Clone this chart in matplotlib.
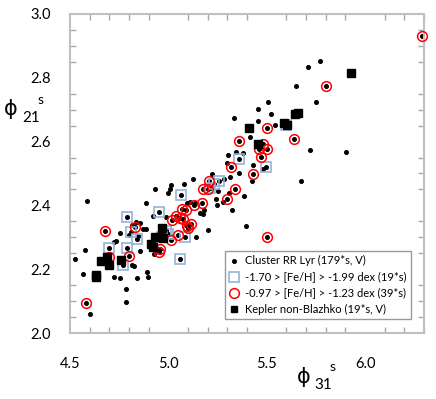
import matplotlib
matplotlib.use("Agg")
import matplotlib.pyplot as plt
import matplotlib.ticker as ticker

plt.rcParams['font.family'] = ['Lato', 'DejaVu Sans']

# cluster RR Lyr stars (phi31, phi21) - stand-alone dots
cl_x = [5.769, 5.708, 5.647, 5.505, 5.454, 5.749, 5.520, 5.332, 5.454, 5.541,
        5.414, 5.718, 5.901, 5.302, 5.343, 5.378, 5.297, 5.429, 5.358, 5.312,
        5.282, 5.424, 5.480, 5.673, 5.221, 5.251, 5.307, 5.383, 5.241, 5.277,
        5.322, 5.393, 5.246, 5.175, 5.200, 5.124, 5.079, 4.931, 5.013, 5.008,
        4.997, 5.135, 5.109, 5.180, 4.987, 4.921, 5.140, 4.987, 5.094, 5.160,
        4.886, 4.586, 4.835, 4.855, 4.754, 4.815, 4.871, 4.886, 4.800, 4.845,
        4.734, 4.723, 4.576, 4.525, 4.566, 4.602, 4.723, 4.754, 4.784, 4.784,
        4.840, 4.891, 4.896, 4.815, 4.825, 4.855, 4.926]
cl_y = [2.853, 2.834, 2.774, 2.724, 2.702, 2.724, 2.687, 2.674, 2.665, 2.652,
        2.614, 2.574, 2.567, 2.558, 2.567, 2.564, 2.533, 2.527, 2.502, 2.489,
        2.483, 2.477, 2.514, 2.477, 2.498, 2.445, 2.439, 2.429, 2.420, 2.411,
        2.386, 2.335, 2.401, 2.373, 2.323, 2.483, 2.467, 2.451, 2.464, 2.451,
        2.439, 2.408, 2.411, 2.386, 2.364, 2.367, 2.301, 2.323, 2.408, 2.376,
        2.408, 2.414, 2.348, 2.345, 2.313, 2.339, 2.326, 2.326, 2.307, 2.304,
        2.288, 2.285, 2.260, 2.232, 2.185, 2.060, 2.176, 2.172, 2.138, 2.097,
        2.172, 2.191, 2.176, 2.213, 2.210, 2.257, 2.248]

# metal-poor clusters -1.70 > [Fe/H] > -1.99
mp_x = [5.600, 5.360, 5.495, 5.230, 5.063, 4.950, 5.084, 5.058, 4.790, 4.810,
        4.840, 4.700, 4.790, 4.770, 4.990, 5.210, 4.970, 5.260, 5.000]
mp_y = [2.652, 2.546, 2.520, 2.467, 2.433, 2.379, 2.300, 2.232, 2.364, 2.317,
        2.295, 2.266, 2.267, 2.213, 2.320, 2.455, 2.300, 2.475, 2.310]

# metal-rich clusters -0.97 > [Fe/H] > -1.23
mr_x = [6.290, 5.800, 5.500, 5.360, 5.640, 5.480, 5.460, 5.500, 5.470, 5.320,
        5.430, 5.340, 5.175, 5.200, 5.300, 5.500, 5.170, 5.205, 5.130, 5.070,
        5.040, 5.020, 5.074, 5.114, 5.094, 5.013, 5.048, 4.950, 4.680, 4.830,
        4.800, 4.580, 4.700, 4.960, 5.060, 5.100, 5.090]
mr_y = [2.930, 2.775, 2.643, 2.602, 2.608, 2.593, 2.577, 2.577, 2.552, 2.520,
        2.498, 2.450, 2.450, 2.450, 2.420, 2.300, 2.408, 2.476, 2.400, 2.390,
        2.367, 2.354, 2.357, 2.342, 2.335, 2.290, 2.307, 2.254, 2.320, 2.332,
        2.240, 2.094, 2.238, 2.262, 2.360, 2.330, 2.385]

# Kepler non-Blazhko stars
kp_x = [5.930, 5.660, 5.645, 5.590, 5.605, 5.410, 5.455, 4.967, 4.930, 4.960,
        4.975, 4.910, 4.920, 4.657, 4.690, 4.700, 4.760, 4.632, 4.630]
kp_y = [2.815, 2.690, 2.685, 2.658, 2.652, 2.643, 2.593, 2.329, 2.300, 2.300,
        2.298, 2.280, 2.270, 2.226, 2.238, 2.213, 2.229, 2.182, 2.175]

fig = plt.figure(figsize=(4.36, 3.99), dpi=100)
ax = fig.add_axes([0.1606, 0.1654, 0.8119, 0.7996])

# dots for all cluster stars (including the ones marked by metallicity)
all_x = cl_x + mp_x + mr_x
all_y = cl_y + mp_y + mr_y
ax.plot(all_x, all_y, 'o', color='black', markersize=2.6, zorder=2, clip_on=False)
ax.plot(mp_x, mp_y, 's', mfc='none', mec='#95b3d7', mew=1.2, markersize=6.5, zorder=3)
ax.plot(mr_x, mr_y, 'o', mfc='none', mec='#ff0000', mew=1.1, markersize=7, zorder=4,
        clip_on=False)
ax.plot(kp_x, kp_y, 's', color='black', markersize=6, zorder=5)

ax.set_xlim(4.5, 6.3)
ax.set_ylim(2.0, 3.0)

ax.xaxis.set_major_locator(ticker.FixedLocator([4.5, 5.0, 5.5, 6.0]))
ax.xaxis.set_minor_locator(ticker.MultipleLocator(0.1))
ax.yaxis.set_major_locator(ticker.MultipleLocator(0.2))
ax.yaxis.set_minor_locator(ticker.MultipleLocator(0.05))
ax.xaxis.set_major_formatter(ticker.FormatStrFormatter('%.1f'))
ax.yaxis.set_major_formatter(ticker.FormatStrFormatter('%.1f'))

ax.tick_params(which='both', direction='in', top=True, right=True,
               color='#a6a6a6', width=1)
ax.tick_params(which='major', length=0, labelsize=10.5, colors='#a6a6a6',
               labelcolor='black')
ax.tick_params(axis='x', which='major', pad=17)
ax.tick_params(axis='y', which='major', pad=14)
ax.tick_params(which='minor', length=4)
for s in ax.spines.values():
    s.set_color('#c0c0c0')
    s.set_linewidth(1.5)

# axis labels: phi with subscript and trailing superscript s
phi_font = dict(family='DejaVu Sans', fontsize=15)
fig.text(0.010, 0.726, '\u03d5', ha='left', va='center', **phi_font)
fig.text(0.052, 0.704, '21', fontsize=11, ha='left', va='center')
fig.text(0.086, 0.750, 's', fontsize=10, ha='left', va='center')
fig.text(0.681, 0.054, '\u03d5', ha='left', va='center', **phi_font)
fig.text(0.722, 0.034, '31', fontsize=11, ha='left', va='center')
fig.text(0.757, 0.080, 's', fontsize=10, ha='left', va='center')

h1, = ax.plot([], [], 'o', color='black', markersize=2.6)
h2, = ax.plot([], [], 's', mfc='none', mec='#95b3d7', mew=1.2, markersize=6.5)
h3, = ax.plot([], [], 'o', mfc='none', mec='#ff0000', mew=1.1, markersize=7)
h4, = ax.plot([], [], 's', color='black', markersize=5)
leg = ax.legend([h1, h2, h3, h4],
                ['Cluster RR Lyr (179*s, V)',
                 '-1.70 > [Fe/H] > -1.99 dex (19*s)',
                 '-0.97 > [Fe/H] > -1.23 dex (39*s)',
                 'Kepler non-Blazhko (19*s, V)'],
                loc='lower right', bbox_to_anchor=(0.963, 0.044),
                fontsize=8, frameon=True, fancybox=False, handlelength=0.8,
                handletextpad=0.6, labelspacing=0.45, borderpad=0.4,
                borderaxespad=0)
leg.get_frame().set_edgecolor('#808080')
leg.get_frame().set_linewidth(1.0)

fig.savefig('out.png', dpi=100)
